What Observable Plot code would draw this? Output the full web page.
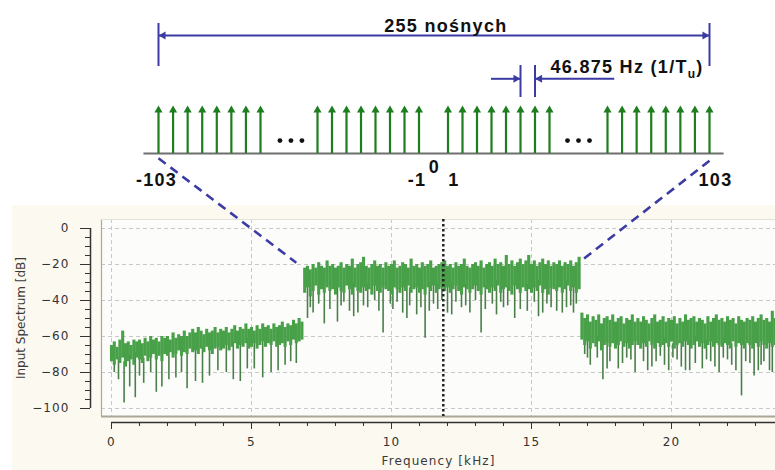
<!DOCTYPE html>
<html><head><meta charset="utf-8">
<script src="https://cdn.jsdelivr.net/npm/d3@7"></script>
<script src="https://cdn.jsdelivr.net/npm/@observablehq/plot@0.6"></script>
<style>
html,body{margin:0;padding:0;background:#fff;}
#wrap{position:relative;width:775px;height:470px;overflow:hidden;background:#fff;}
#cream{position:absolute;left:12px;top:205px;right:0;bottom:0;background:#fcf9f0;}
#wrap svg{position:absolute;left:0;top:0;}
</style></head><body>
<div id="wrap"><div id="cream"></div></div>
<script>
// ---------- top diagram data ----------
const carriers = [-103,-102,-101,-100,-99,-98,-97,-96,-8,-7,-6,-5,-4,-3,-2,-1,1,2,3,4,5,6,7,8,96,97,98,99,100,101,102,103];
const ellipsisAt = [-49, 52];
const span = [-103, 103];
const spanText = "255 nośnych";
const spacingPair = [6, 7];
const spacingText = "46.875 Hz (1/T_u)";
const leftLabels = [-103, -1];
const rightLabels = [1, 103];
const zeroLabel = [0];

// ---------- spectrum data (0.1 kHz bins, dB) ----------
const binStep = 0.1;
const specHi = [
-65,-63,-66,-62,-57,-64,-63,-65,-62,-63,
-62,-64,-61,-63,-60,-62,-61,-63,-60,-61,
-60,-62,-58,-61,-59,-60,-57,-60,-58,-56,
-58,-55,-57,-59,-56,-58,-57,-55,-58,-56,
-57,-55,-58,-56,-54,-57,-55,-56,-53,-56,
-55,-57,-54,-56,-53,-55,-54,-56,-53,-55,
-54,-52,-55,-53,-54,-51,-53,-50,-52,
-22,-21,-23,-20,-22,-19,-21,-22,-18,-21,
-20,-22,-21,-19,-22,-20,-21,-17,-22,-20,
-19,-16,-21,-22,-20,-18,-21,-20,-22,-19,
-21,-20,-18,-22,-21,-19,-20,-22,-17,-21,
-20,-22,-19,-21,-20,-18,-22,-21,-20,-19,
-18,-21,-20,-22,-19,-21,-20,-17,-21,-22,
-20,-19,-21,-18,-22,-20,-19,-21,-17,-20,
-19,-21,-15,-20,-18,-21,-19,-17,-20,-18,
-15,-20,-18,-21,-19,-17,-20,-18,-21,-19,
-20,-18,-21,-19,-20,-18,-21,-19,-16,
-47,-50,-48,-52,-49,-51,-48,-53,-50,-49,
-51,-48,-52,-50,-49,-53,-50,-51,-48,-52,
-50,-52,-49,-51,-53,-50,-48,-52,-51,-49,
-52,-50,-51,-49,-53,-50,-52,-48,-51,-50,
-49,-52,-50,-51,-53,-49,-52,-50,-48,-51,
-50,-52,-49,-51,-50,-53,-49,-51,-52,-50,
-51,-49,-52,-50,-48,-51,-50,-52,-46,-50];
const specLo = [
-74,-76,-73,-75,-72,-77,-74,-73,-76,-72,
-73,-75,-71,-74,-72,-70,-73,-71,-74,-70,
-71,-69,-72,-70,-68,-71,-69,-70,-67,-69,
-68,-70,-67,-69,-66,-68,-70,-67,-66,-68,
-67,-65,-68,-66,-64,-67,-65,-66,-64,-67,
-66,-64,-67,-65,-63,-66,-64,-65,-63,-66,
-65,-64,-66,-63,-65,-62,-64,-63,-62,
-36,-33,-38,-35,-32,-37,-34,-36,-33,-35,
-34,-37,-33,-35,-36,-32,-34,-37,-33,-35,
-36,-33,-35,-34,-37,-32,-35,-36,-33,-34,
-35,-37,-33,-34,-36,-33,-35,-32,-36,-34,
-33,-36,-34,-37,-33,-35,-32,-36,-34,-33,
-35,-33,-36,-34,-32,-35,-37,-33,-34,-36,
-34,-32,-35,-37,-33,-34,-36,-33,-35,-32,
-36,-34,-33,-35,-37,-32,-34,-36,-33,-35,
-34,-36,-33,-35,-32,-36,-34,-37,-33,-34,
-35,-33,-36,-34,-32,-35,-33,-36,-34,
-62,-65,-63,-67,-64,-66,-63,-68,-65,-64,
-66,-64,-67,-65,-63,-66,-64,-67,-65,-63,
-65,-67,-64,-66,-63,-65,-67,-64,-66,-65,
-64,-66,-63,-67,-65,-64,-66,-63,-65,-67,
-65,-63,-66,-64,-67,-65,-63,-66,-64,-65,
-66,-64,-65,-67,-63,-66,-64,-65,-67,-64,
-65,-67,-64,-66,-63,-65,-67,-64,-66,-65];
const dipFreq = [0.1,0.25,0.45,0.65,0.85,1.0,1.15,1.4,1.6,1.8,2.05,2.3,2.5,2.7,3.0,3.25,3.5,3.8,4.1,4.35,4.6,4.85,5.1,5.4,5.7,5.95,6.2,6.4,6.6,
 7.0,7.1,7.2,7.4,7.6,7.8,8.07,8.2,8.3,8.5,8.65,8.8,9.0,9.15,9.4,9.55,9.7,9.96,10.05,10.2,10.4,10.55,10.65,10.9,11.05,11.2,11.35,11.5,11.65,11.8,12.0,12.15,12.3,12.5,12.65,12.8,13.0,13.2,13.35,13.6,13.75,13.9,14.0,14.15,14.4,14.6,14.85,15.1,15.25,15.4,15.55,15.7,15.9,16.1,16.25,16.4,16.5,16.6,
 16.9,17.0,17.1,17.35,17.55,17.7,17.8,18.1,18.25,18.4,18.55,18.7,19.0,19.15,19.3,19.45,19.6,19.75,19.9,20.05,20.2,20.35,20.5,20.65,20.85,21.1,21.25,21.4,21.55,21.7,21.85,22.0,22.15,22.3,22.5,22.65,22.8,22.95,23.1,23.2,23.3,23.5,23.6];
const dipDb = [-80,-84,-97,-88,-94,-82,-86,-80,-91,-88,-84,-83,-80,-89,-85,-86,-82,-79,-80,-84,-85,-78,-78,-83,-80,-79,-76,-74,-75,
 -50,-44,-47,-42,-53,-45,-52,-43,-41,-46,-49,-47,-43,-44,-40,-46,-58,-42,-45,-41,-47,-50,-43,-48,-44,-61,-46,-42,-45,-40,-47,-48,-41,-44,-43,-47,-40,-58,-45,-42,-48,-41,-44,-43,-50,-45,-46,-41,-49,-47,-42,-44,-46,-47,-44,-43,-47,-42,
 -70,-72,-76,-72,-84,-78,-74,-78,-75,-72,-73,-80,-74,-79,-77,-74,-71,-76,-79,-72,-73,-77,-79,-79,-75,-78,-73,-74,-77,-80,-72,-73,-76,-79,-93,-74,-75,-82,-79,-76,-74,-79,-80];
const markerFreq = [11.85];
const xTicks = [0,5,10,15,20];
const xMinor = d3.range(0, 24, 1);
const yTicks = [0,-20,-40,-60,-80,-100];
const yMinor = d3.range(0, -101, -5);
const xLabel = "Frequency [kHz]";
const yLabel = "Input Spectrum [dB]";
// connectors: from a carrier in the top diagram to a point of the spectrum
const connectors = [{c: -103, lvl: -0.1, f: 6.6, db: -19}, {c: 103, lvl: -0.15, f: 16.85, db: -17}];

// ---------- styles / layout ----------
const green = "#1e7d1e", blue = "#3b3ba3", band = "#48a048", dipCol = "#4a7f4a";
const lv = {base: 0, tip: 1, stem: 0.9, dots: 0.27, idx: -0.5625, zero: -0.28,
  spanLine: 2.458, spanBarTop: 2.708, spanBarBot: 1.8125, spanText: 2.646,
  spText: 1.806, spArrow: 1.556, spBarTop: 1.833, spBarBot: 1.167};
const boldText = {fontSize: 18, fontWeight: "bold", fill: "#111"};

const topPlot = Plot.plot({
  width: 775, height: 200, margin: 0,
  x: {type: "linear", domain: [-103,-96,-8,8,96,103], range: [158,260,317,549,607,709], axis: null},
  y: {domain: [0, 1], range: [153, 105], axis: null},
  style: {background: "transparent", "--plot-background": "transparent", fontFamily: "'Liberation Sans', Arial, sans-serif", letterSpacing: "1.3px", overflow: "visible"},
  marks: [
    Plot.ruleY([lv.base], {x1: -104, x2: 104, stroke: "#6e6e6e", strokeWidth: 2}),
    Plot.ruleX(carriers, {x: d => d, y1: lv.base, y2: lv.stem, stroke: green, strokeWidth: 2.2}),
    Plot.dot(carriers, {x: d => d, y: lv.tip, symbol: "triangle", r: 3, fill: green, dy: 4.7}),
    ...[-11, 0, 11].map(o => Plot.dot(ellipsisAt, {x: d => d, y: lv.dots, r: 2.4, fill: "#111", dx: o})),
    // 255 span
    Plot.ruleY([lv.spanLine], {x1: span[0], x2: span[1], stroke: blue, strokeWidth: 2}),
    Plot.ruleX(span, {x: d => d, y1: lv.spanBarBot, y2: lv.spanBarTop, stroke: blue, strokeWidth: 2}),
    Plot.dot([span[0]], {x: d => d, y: lv.spanLine, symbol: "triangle", r: 3, rotate: -90, fill: blue, dx: 4.7}),
    Plot.dot([span[1]], {x: d => d, y: lv.spanLine, symbol: "triangle", r: 3, rotate: 90, fill: blue, dx: -4.7}),
    Plot.text([spanText], {x: 0.85, y: lv.spanText, text: d => d, ...boldText}),
    // spacing
    Plot.ruleX(spacingPair, {x: d => d, y1: lv.spBarBot, y2: lv.spBarTop, stroke: blue, strokeWidth: 2}),
    Plot.ruleY([lv.spArrow], {x1: 4, x2: spacingPair[0], stroke: blue, strokeWidth: 2}),
    Plot.ruleY([lv.spArrow], {x1: spacingPair[1], x2: 96.5, stroke: blue, strokeWidth: 2}),
    Plot.dot([spacingPair[0]], {x: d => d, y: lv.spArrow, symbol: "triangle", r: 3, rotate: 90, fill: blue, dx: -4.7}),
    Plot.dot([spacingPair[1]], {x: d => d, y: lv.spArrow, symbol: "triangle", r: 3, rotate: -90, fill: blue, dx: 4.7}),
    Plot.text([spacingText], {x: 102.6, y: lv.spText, text: d => d, textAnchor: "end", ...boldText}),
    // index labels
    Plot.text(leftLabels, {x: d => d, y: lv.idx, text: d => String(d), dx: -2, ...boldText}),
    Plot.text(rightLabels, {x: d => d, y: lv.idx, text: d => String(d), dx: 6, ...boldText}),
    Plot.text(zeroLabel, {x: d => d, y: lv.zero, text: d => String(d), dx: 1, ...boldText})
  ]
});

// subscript for T_u
d3.select(topPlot).selectAll("text").filter(function () { return this.textContent === spacingText; }).each(function () {
  const t = d3.select(this); const parts = spacingText.split("_");
  t.text(null);
  t.append("tspan").text(parts[0]);
  t.append("tspan").attr("dy", 5).attr("font-size", 12).text(parts[1].slice(0, -1));
  t.append("tspan").attr("dy", -5).text(parts[1].slice(-1));
});

const xDom = [-0.357, 23.714], yDom = [-104.44, 5];
const xRange = [101, 775], yRange = [416, 219];
const bx = Plot.scale({x: {domain: xDom, range: xRange}});
const by = Plot.scale({y: {domain: yDom, range: yRange}});
const tx = topPlot.scale("x"), ty = topPlot.scale("y");

const bins = specHi.map((hi, i) => ({f: +(i * binStep).toFixed(2), hi, lo: specLo[i]}));
const dips = dipFreq.map((f, i) => ({f, db: dipDb[i], top: specLo[Math.round(f / binStep)] + 3}));

const axisColor = "#333";
const bottom = Plot.plot({
  width: 775, height: 470, marginLeft: 101, marginRight: 0, marginTop: 219, marginBottom: 54,
  x: {domain: xDom, range: xRange},
  y: {domain: yDom, range: yRange},
  style: {background: "transparent", "--plot-background": "transparent", fontFamily: "'DejaVu Sans', Verdana, sans-serif", fontSize: "12px", color: "#3a3a3a", letterSpacing: "1.1px", overflow: "visible"},
  marks: [
    Plot.frame({fill: "#fcfdfb", stroke: null}),
    Plot.gridY(yTicks, {stroke: "#c8c8c8", strokeOpacity: 1, strokeDasharray: "4,3"}),
    Plot.gridX(xTicks, {stroke: "#c8c8c8", strokeOpacity: 1, strokeDasharray: "4,3"}),
    Plot.ruleX([xDom[0]], {stroke: "#a8a8a8", strokeWidth: 1.2}),
    Plot.ruleY([yDom[1]], {stroke: "#e2e2dc", strokeWidth: 1}),
    Plot.ruleY([yDom[0]], {stroke: "#aaa595", strokeWidth: 2}),
    Plot.ruleX(dips, {x: "f", y1: "db", y2: "top", stroke: dipCol, strokeWidth: 1.6}),
    Plot.ruleX(bins, {x: "f", y1: "lo", y2: "hi", stroke: band, strokeWidth: 3.1}),
    Plot.ruleX(markerFreq, {x: d => d, stroke: "#222", strokeWidth: 2.5, strokeDasharray: "2.5,2.5"}),
    Plot.axisY(yTicks, {tickSize: 10, tickPadding: 11, dx: -11, color: axisColor, label: null}),
    Plot.axisY(yMinor, {tickSize: 5, text: null, dx: -11, color: axisColor, label: null}),
    Plot.ruleX([xDom[0]], {y1: -100, y2: 0, dx: -11, stroke: axisColor, strokeWidth: 1.5}),
    Plot.axisX(xTicks, {tickSize: 7, tickPadding: 8, dy: 6, color: axisColor, label: null}),
    Plot.axisX(xMinor, {tickSize: 4, text: null, dy: 6, color: axisColor, label: null}),
    Plot.ruleY([yDom[0]], {x1: 0, x2: xDom[1], dy: 6, stroke: axisColor, strokeWidth: 1.5}),
    Plot.text([xLabel], {frameAnchor: "bottom", dy: 48, text: d => d, fontSize: 12, fill: "#3a3a3a"}),
    Plot.text([yLabel], {frameAnchor: "left", textAnchor: "middle", dx: -80, rotate: -90, text: d => d, fontSize: 12, fill: "#3a3a3a"}),
    Plot.link(connectors, {
      x1: d => bx.invert(tx.apply(d.c)), y1: d => by.invert(ty.apply(d.lvl)),
      x2: "f", y2: "db", stroke: blue, strokeWidth: 2.6, strokeDasharray: "9,6"
    })
  ]
});
d3.select(bottom).selectAll("text").filter(function () { return this.textContent === yLabel; }).style("letter-spacing", "0px");

const wrap = document.getElementById("wrap");
wrap.appendChild(bottom);
wrap.appendChild(topPlot);
</script>
</body></html>
